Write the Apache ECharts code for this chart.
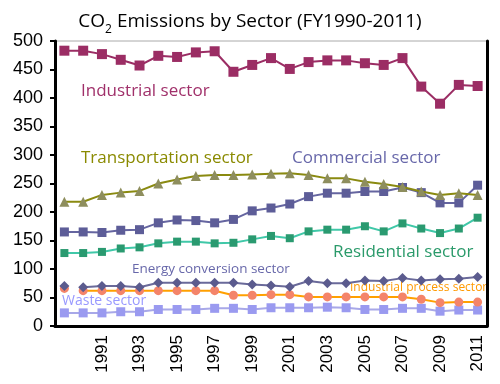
<!DOCTYPE html>
<html><head><meta charset="utf-8">
<script src="https://cdn.jsdelivr.net/npm/echarts@6/dist/echarts.min.js"></script>
<style>html,body{margin:0;padding:0;background:#fff}#c{width:500px;height:384px}</style>
</head><body><div id="c"></div>
<script>
const categories = ["Base year","1990","1991","1992","1993","1994","1995","1996","1997","1998","1999","2000","2001","2002","2003","2004","2005","2006","2007","2008","2009","2010","2011"];
const industrial = [483,483,477,467,457,474,472,480,482,446,458,470,451,463,466,466,461,458,470,420,390,423,421];
const transport = [218,218,230,234,237,250,257,263,265,265,266,267,268,265,259,259,253,249,244,236,230,233,230];
const commercial = [165,165,164,168,169,181,186,185,181,187,202,207,214,227,233,233,236,236,243,234,216,216,247];
const residential = [128,128,130,136,138,145,148,148,145,146,152,158,154,166,169,169,175,166,180,171,163,171,190];
const energyConv = [70,68,70,70,68,76,76,76,76,76,73,71,69,79,75,75,80,79,84,80,82,83,86];
const industrialProcess = [66,62,62,62,62,62,62,62,62,54,54,55,55,51,51,51,51,51,51,47,41,42,42];
const waste = [23,23,23,25,25,29,29,29,31,31,29,32,32,32,33,32,29,29,31,31,26,28,28];
const yTicks = [0,50,100,150,200,250,300,350,400,450,500];

const chart = echarts.init(document.getElementById('c'));
const noBase = arr => arr.map((v,i)=> i===0 ? '-' : v);
function line(name, data, lineColor, symColor, symbol, size, z) {
  return {name, type:'line', data, symbol, symbolSize:size, z:z||2,
    lineStyle:{color:lineColor, width:2}, itemStyle:{color:symColor},
    emphasis:{disabled:true}, animation:false};
}
const labelFont = "'Open Sans', 'Noto Sans', sans-serif";
function txt(x, y, text, color, size) {
  return {type:'text', left:x, top:y, style:{text, fill:color, font: size + 'px ' + labelFont}};
}
chart.setOption({
  animation:false,
  title:{text:'{a|CO}{s|2}{a| Emissions by Sector (FY1990-2011)}', left:'center', top:7,
    textStyle:{rich:{
      a:{fontFamily:"'Open Sans', sans-serif", fontSize:19, fontWeight:'normal', color:'#000', verticalAlign:'bottom'},
      s:{fontFamily:"'Open Sans', sans-serif", fontSize:12, fontWeight:'normal', color:'#000', verticalAlign:'bottom', padding:[0,0,-5,0]}
    }}},
  grid:{left:55, right:13, top:41, bottom:58, show:true, borderColor:'#aaa', borderWidth:1},
  xAxis:{type:'category', data:categories, boundaryGap:true,
    axisLine:{lineStyle:{color:'#000', width:3}},
    axisTick:{inside:true, length:6, interval:0, lineStyle:{color:'#000', width:2}},
    axisLabel:{rotate:90, fontSize:17, fontFamily:"'Liberation Sans', Arial, sans-serif", color:'#000', margin:9,
      interval:(i)=> i>0 && i%2===0}},
  yAxis:[{type:'value', min:yTicks[0], max:yTicks[yTicks.length-1], interval:50,
    axisLine:{show:true, lineStyle:{color:'#000', width:3}},
    axisTick:{show:true, length:5, lineStyle:{color:'#000', width:2}},
    splitLine:{show:false},
    axisLabel:{fontSize:18, fontFamily:"'Liberation Sans', Arial, sans-serif", color:'#000', margin:12}},
    {type:'value', position:'right', min:0, max:500, interval:50,
    axisLine:{show:true, lineStyle:{color:'#000', width:3}}, axisTick:{show:false}, axisLabel:{show:false}, splitLine:{show:false}}],
  series:[
    line('Waste sector', waste, '#a8a8e8', '#9a9af0', 'rect', 9),
    line('Industrial process sector', noBase(industrialProcess), '#ffa000', '#f4846a', 'circle', 9),
    {...line('Industrial process base', [industrialProcess[0]], '#ffa000', '#f4846a', 'circle', 9)},
    line('Energy conversion sector', noBase(energyConv), '#6a6a9a', '#5b5b8e', 'diamond', 10),
    {...line('Energy conversion base', [energyConv[0]], '#6a6a9a', '#5b5b8e', 'diamond', 10)},
    line('Residential sector', residential, '#40c8a8', '#2a9a70', 'rect', 8),
    line('Commercial sector', commercial, '#6565a0', '#5d5d98', 'rect', 9),
    line('Transportation sector', transport, '#8a8a10', '#8e8e5e', 'triangle', 10, 3),
    line('Industrial sector', industrial, '#9b2d64', '#9b2d64', 'rect', 10)
  ],
  graphic:[
    txt(81, 83, 'Industrial sector', '#a0306a', 17),
    txt(81, 150, 'Transportation sector', '#8a8a00', 17),
    txt(292, 150, 'Commercial sector', '#6868aa', 17),
    txt(333, 244, 'Residential sector', '#2a9a6a', 17),
    txt(132, 262, 'Energy conversion sector', '#6868aa', 13.5),
    txt(350, 282, 'Industrial process sector', '#ff9900', 12),
    txt(62, 294, 'Waste sector', '#9999ff', 14)
  ]
});
</script></body></html>
